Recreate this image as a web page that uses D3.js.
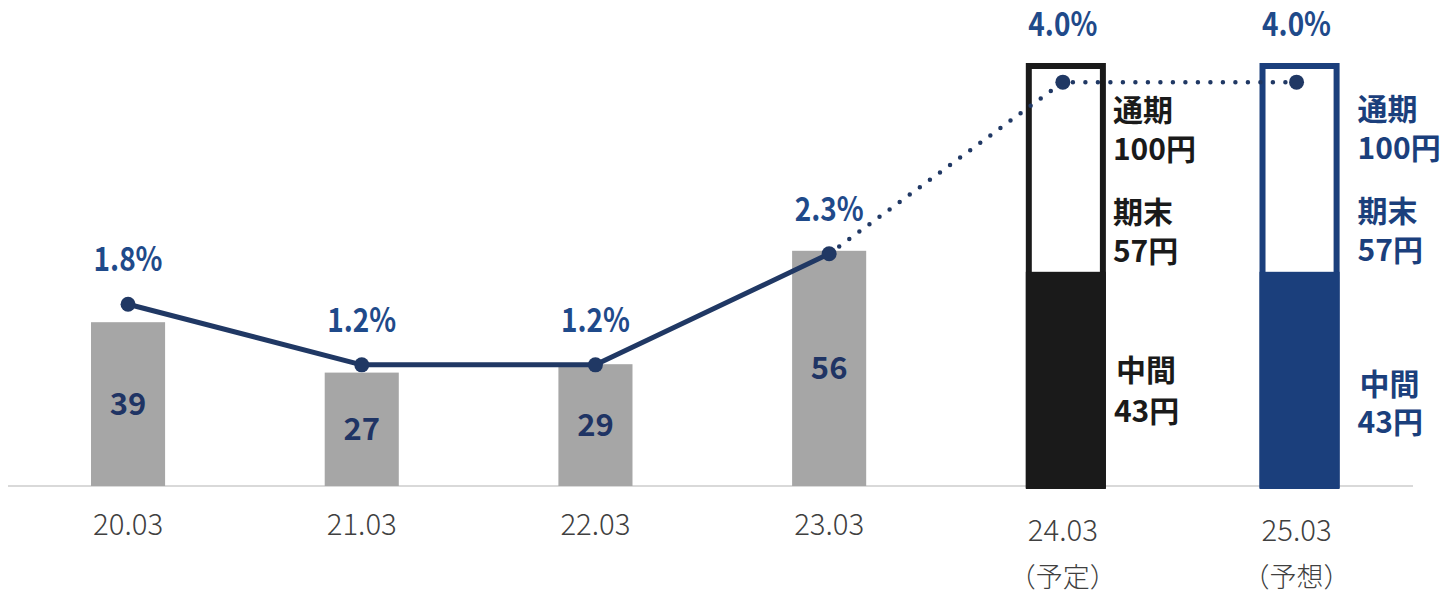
<!DOCTYPE html>
<html><head><meta charset="utf-8">
<script src="https://cdn.jsdelivr.net/npm/d3@7/dist/d3.min.js"></script>
<style>
html,body{margin:0;padding:0;background:#fff;}
svg{display:block;font-family:"Noto Sans CJK JP","Noto Sans",sans-serif;}
</style></head>
<body>
<svg id="chart" width="1448" height="593"></svg>
<script>
// ---- data ----
const categories = ["20.03","21.03","22.03","23.03","24.03","25.03"];
const subLabels  = ["","","","","（予定）","（予想）"];
const actualDividends = [39, 27, 29, 56, null, null];     // grey bars (yen)
const forecastTotal   = [null, null, null, null, 100, 100]; // 通期
const forecastInterimDrawn = [null, null, null, null, 51, 51]; // filled segment height as drawn
const yieldPct = [1.8, 1.2, 1.2, 2.3, 4.0, 4.0];
const yieldLabels = ["1.8%","1.2%","1.2%","2.3%","4.0%","4.0%"];
const forecastNotes = {
  4: {color:"#1a1a1a", lines:[["通期","100円"],["期末","57円"],["中間","43円"]]},
  5: {color:"#1b3f7c", lines:[["通期","100円"],["期末","57円"],["中間","43円"]]}
};

const svg = d3.select("#chart");
const x = d3.scaleBand().domain(categories).range([11.2, 1413.4]).paddingInner(0.683).paddingOuter(0.3415);
const yBar = d3.scaleLinear().domain([0, 100]).range([486, 66]);
const yLine = d3.scaleLinear().domain([0, 4.16]).range([486, 66]);
const cx = c => x(c) + x.bandwidth()/2;

const navyLine = "#203864";
const pctColor = "#1f4a8a";
const valColor = "#1f3464";

// axis baseline
svg.append("line").attr("x1", 8).attr("x2", 1413).attr("y1", 486).attr("y2", 486)
  .attr("stroke", "#d9d9d9").attr("stroke-width", 2);

// actual bars
const actual = categories.map((c,i)=>({c, v: actualDividends[i]})).filter(d=>d.v!=null);
svg.selectAll("rect.actual").data(actual).enter().append("rect")
  .attr("x", d=>x(d.c)).attr("width", x.bandwidth())
  .attr("y", d=>yBar(d.v)).attr("height", d=>yBar(0)-yBar(d.v))
  .attr("fill", "#a6a6a6");
svg.selectAll("text.val").data(actual).enter().append("text")
  .attr("x", d=>cx(d.c)).attr("y", d=>(yBar(d.v)+yBar(0))/2 + 11)
  .attr("text-anchor","middle").attr("font-size", 31).attr("font-weight", 700)
  .attr("fill", valColor).text(d=>d.v);

// forecast bars
const fc = categories.map((c,i)=>({c, i, t: forecastTotal[i], m: forecastInterimDrawn[i]})).filter(d=>d.t!=null);
const fcColor = i => i===4 ? "#1a1a1a" : "#1b3f7c";
svg.selectAll("rect.fout").data(fc).enter().append("rect")
  .attr("x", d=>x(d.c)+3).attr("width", x.bandwidth())
  .attr("y", d=>yBar(d.t)).attr("height", d=>yBar(0)-yBar(d.t))
  .attr("fill", "#fff").attr("stroke", d=>fcColor(d.i)).attr("stroke-width", 6);
svg.selectAll("rect.fin").data(fc).enter().append("rect")
  .attr("x", d=>x(d.c)).attr("width", x.bandwidth()+6)
  .attr("y", d=>yBar(d.m)).attr("height", d=>yBar(0)-yBar(d.m)+2)
  .attr("fill", d=>fcColor(d.i));

// line (solid part for actuals, dotted for forecast)
const pts = categories.map((c,i)=>({c, i, v: yieldPct[i]}));
const lineGen = d3.line().x(d=>cx(d.c)).y(d=>yLine(d.v));
svg.append("path").attr("d", lineGen(pts.slice(0,4)))
  .attr("fill","none").attr("stroke", navyLine).attr("stroke-width", 5).attr("stroke-linejoin","round");
svg.append("path").attr("d", lineGen(pts.slice(3)))
  .attr("fill","none").attr("stroke", navyLine).attr("stroke-width", 4.5)
  .attr("stroke-linecap","round").attr("stroke-dasharray","0 12.5");
svg.selectAll("circle.pt").data(pts).enter().append("circle")
  .attr("cx", d=>cx(d.c)).attr("cy", d=>yLine(d.v)).attr("r", 7.5).attr("fill", navyLine);

// percent labels
svg.selectAll("text.pct").data(pts).enter().append("text")
  .attr("x", d=>cx(d.c))
  .attr("y", d=> d.i>=4 ? yBar(forecastTotal[d.i]) - 30 : yLine(d.v) - 33)
  .attr("text-anchor","middle").attr("font-size", 33).attr("font-weight", 700)
  .attr("textLength", 69).attr("lengthAdjust","spacingAndGlyphs")
  .attr("fill", pctColor).text(d=>yieldLabels[d.i]);

// notes beside forecast bars
const noteBase = {4:[[121,160],[223,262],[381,422]], 5:[[120,159],[222,261],[395,433]]};
const noteX = {4:[0,0,3], 5:[11,11,13]};
Object.keys(forecastNotes).forEach(k=>{
  const i = +k, n = forecastNotes[k];
  const xl = x(categories[i]) + x.bandwidth() + 13;
  n.lines.forEach((pair, j)=>{
    pair.forEach((s, m)=>{
      svg.append("text").attr("x", xl + noteX[i][j] - (j===2 && m===1 ? 2 : 0)).attr("y", noteBase[i][j][m])
        .attr("font-size", 30).attr("font-weight", 700).attr("fill", n.color).text(s);
    });
  });
});

// x axis labels
categories.forEach((c,i)=>{
  const yy = subLabels[i] ? 541 : 535;
  svg.append("text").attr("x", cx(c)).attr("y", yy).attr("text-anchor","middle")
    .attr("font-size", 30).attr("font-weight", 300).attr("fill","#404040")
    .attr("textLength", 70).attr("lengthAdjust","spacingAndGlyphs").text(c);
  if (subLabels[i]) {
    svg.append("text").attr("x", cx(c)).attr("y", 587).attr("text-anchor","middle")
      .attr("font-size", 27).attr("font-weight", 300).attr("fill","#404040").text(subLabels[i]);
  }
});
</script>
</body></html>
